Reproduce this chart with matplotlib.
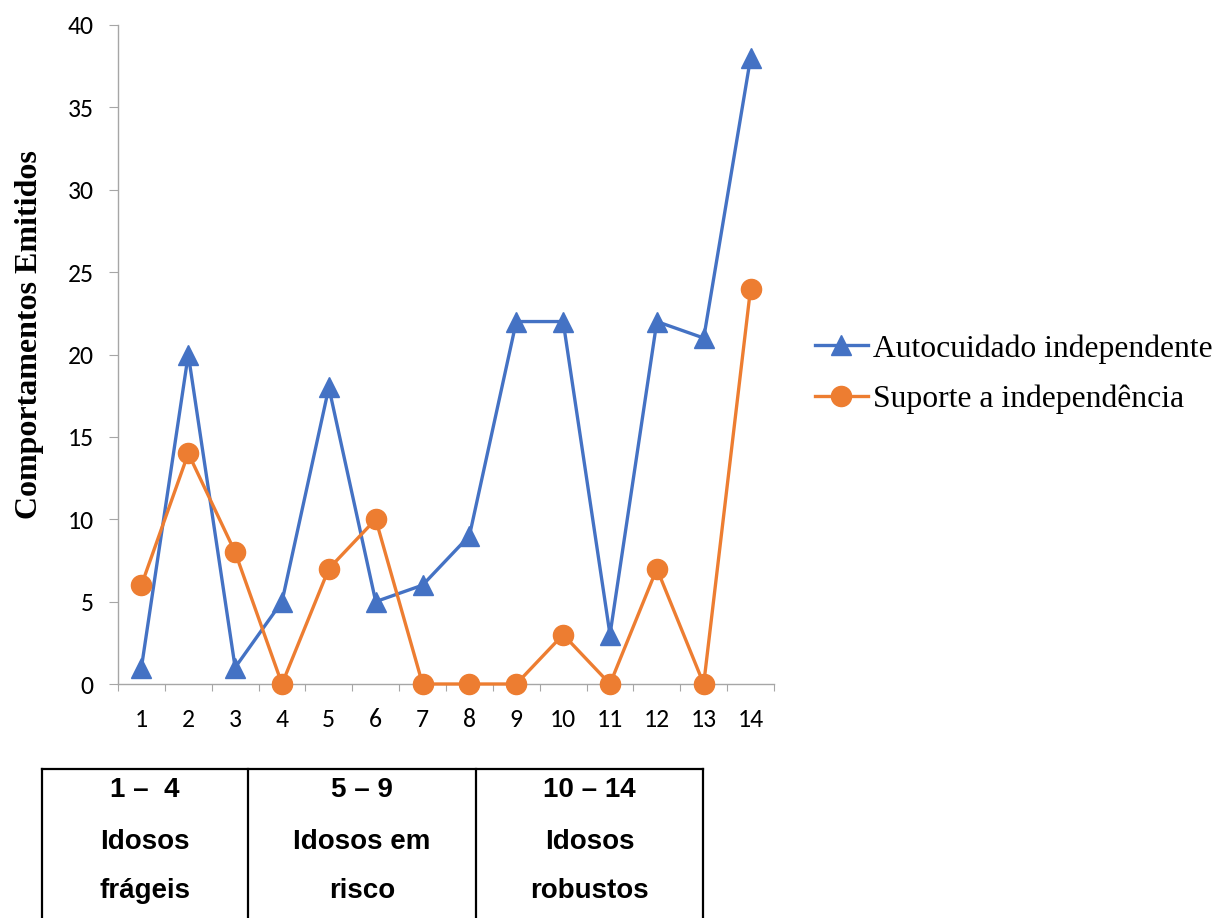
import matplotlib
matplotlib.use("Agg")
import matplotlib.pyplot as plt
from matplotlib.lines import Line2D
import numpy as np

# Participants (category axis) and behaviour counts
participants = list(range(1, 15))
autocuidado = [1, 20, 1, 5, 18, 5, 6, 9, 22, 22, 3, 22, 21, 38]
suporte = [6, 14, 8, 0, 7, 10, 0, 0, 0, 3, 0, 7, 0, 24]

series_names = ["Autocuidado independente", "Suporte a independência"]
y_label = "Comportamentos Emitidos"
y_ticks = [0, 5, 10, 15, 20, 25, 30, 35, 40]

group_ranges = ["1 \u2013  4", "5 \u2013 9", "10 \u2013 14"]
group_line1 = ["Idosos", "Idosos em", "Idosos"]
group_line2 = ["frágeis", "risco", "robustos"]

BLUE = "#4472C4"
ORANGE = "#ED7D31"
AXIS_GREY = "#A6A6A6"

W, H = 1220, 918
fig = plt.figure(figsize=(W / 100, H / 100), dpi=100)

def fx(px):
    return px / W

def fy(py):
    return 1 - py / H

ax = fig.add_axes([fx(118), fy(684), fx(774) - fx(118), fy(25) - fy(684)])

ax.plot(participants, autocuidado, color=BLUE, lw=2.4, marker="^", ms=15,
        label=series_names[0], clip_on=False, zorder=3)
ax.plot(participants, suporte, color=ORANGE, lw=2.4, marker="o", ms=14.5,
        label=series_names[1], clip_on=False, zorder=4)

ax.set_xlim(0.5, 14.5)
ax.set_ylim(0, 40)

for side in ("top", "right"):
    ax.spines[side].set_visible(False)
for side in ("left", "bottom"):
    ax.spines[side].set_color(AXIS_GREY)
    ax.spines[side].set_linewidth(1.0)

tick_family = ["Carlito", "Lato", "DejaVu Sans"]
tick_size = 18.5

ax.set_yticks(y_ticks)
ax.set_yticklabels([str(v) for v in y_ticks])
ax.tick_params(axis="y", direction="out", length=6.5, color=AXIS_GREY, pad=11,
               labelsize=tick_size)

# category boundaries carry the tick marks, centres carry the labels
ax.set_xticks(np.arange(0.5, 15, 1.0))
ax.set_xticklabels([])
ax.set_xticks(participants, minor=True)
ax.set_xticklabels([str(p) for p in participants], minor=True)
ax.tick_params(axis="x", which="major", direction="out", length=5, color=AXIS_GREY)
ax.tick_params(axis="x", which="minor", length=0, pad=17, labelsize=tick_size)

for lab in ax.get_yticklabels() + ax.get_xticklabels(minor=True):
    lab.set_family(tick_family)
    lab.set_fontsize(tick_size)

fig.text(fx(30), fy(335), y_label, rotation=90, ha="center", va="center",
         family=["Liberation Serif", "DejaVu Serif"], weight="bold", size=23)

leg = fig.legend(loc="center left", bbox_to_anchor=(fx(815), fy(374)),
                 frameon=False, prop=dict(family=["Liberation Serif", "DejaVu Serif"], size=22.8),
                 handlelength=1.67, handletextpad=0.16, labelspacing=0.66,
                 borderaxespad=0, borderpad=0)

# group table below the chart
tbl_left, tbl_right, tbl_top, tbl_bottom = 42, 703, 769, 920
col_edges = [42, 248, 476, 703]
line_kw = dict(color="black", lw=1.6, transform=fig.transFigure)
fig.add_artist(Line2D([fx(tbl_left), fx(tbl_right)], [fy(tbl_top), fy(tbl_top)], **line_kw))
for cx in col_edges:
    fig.add_artist(Line2D([fx(cx), fx(cx)], [fy(tbl_top), fy(tbl_bottom)], **line_kw))

table_font = dict(family=["Liberation Sans", "DejaVu Sans"], weight="bold", size=20)
for i in range(3):
    cx = (col_edges[i] + col_edges[i + 1]) / 2
    for text, base in zip((group_ranges[i], group_line1[i], group_line2[i]), (797, 849, 898)):
        fig.text(fx(cx), fy(base), text, ha="center", va="baseline", **table_font)

fig.savefig("out.png", dpi=100)
